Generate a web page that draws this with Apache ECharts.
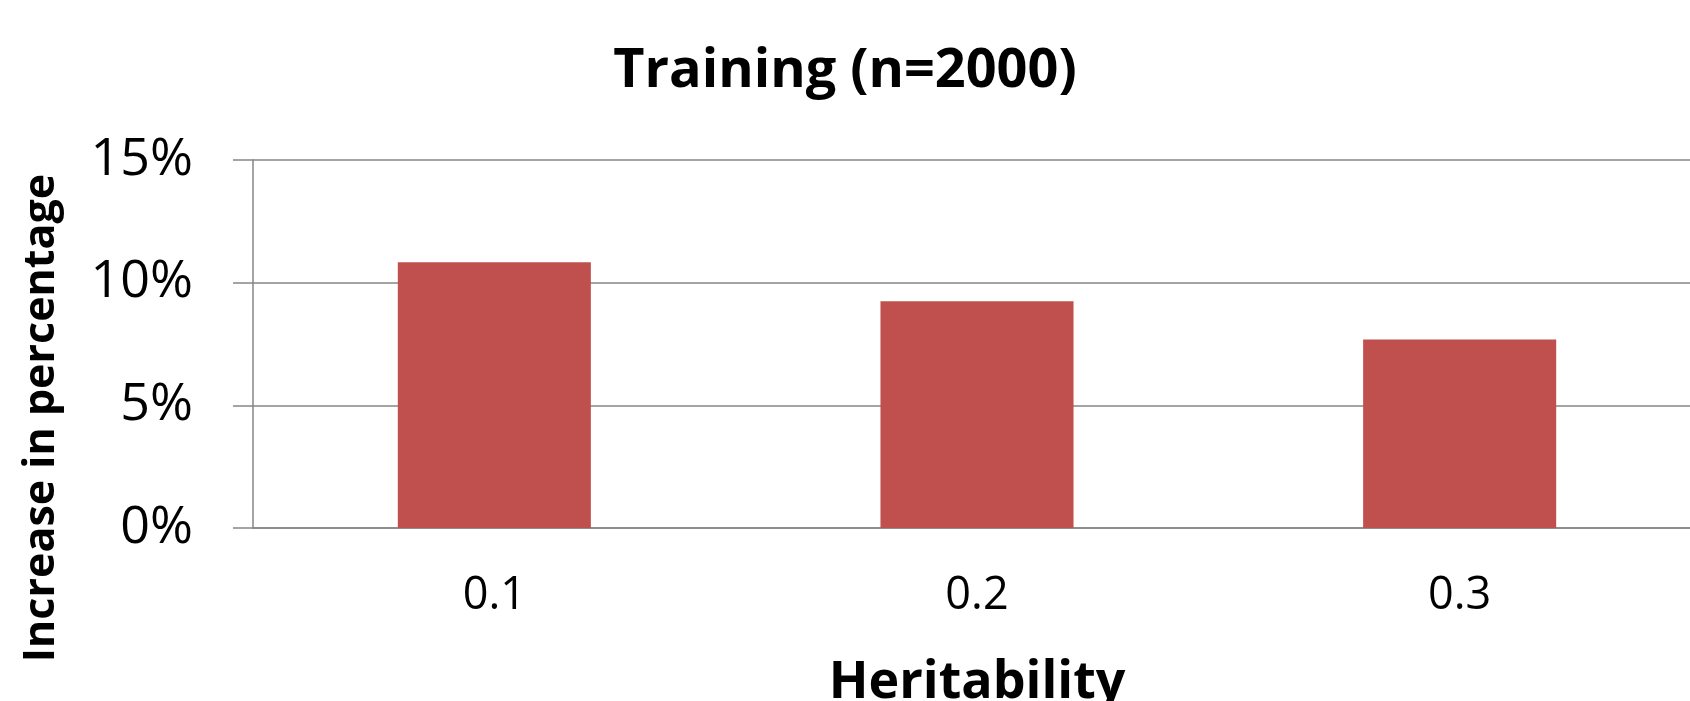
<!DOCTYPE html>
<html>
<head>
<meta charset="utf-8">
<script src="https://cdn.jsdelivr.net/npm/echarts@6/dist/echarts.min.js"></script>
<style>
  html, body { margin: 0; padding: 0; background: #fff; }
  #chart-container { width: 1690px; height: 701px; }
</style>
</head>
<body>
<div id="chart-container"></div>
<script>
const categories = ['0.1', '0.2', '0.3'];
const increaseValues = [0.1083, 0.0924, 0.0768];

const titleText = 'Training (n=2000)';
const xAxisName = 'Heritability';
const yAxisName = 'Increase in percentage';

function createChart(id) {
  const dom = document.getElementById(id);
  const myChart = echarts.init(dom, null, {
    renderer: 'canvas',
    useDirtyRect: false
  });

  const option = {
    backgroundColor: '#ffffff',
    animation: false,
    title: {
      text: titleText,
      left: 'center',
      top: 40,
      textStyle: {
        fontFamily: 'Open Sans',
        fontWeight: 'bold',
        fontSize: 54,
        color: '#000'
      }
    },
    grid: {
      left: 253,
      right: -11,
      top: 160,
      bottom: 173,
      containLabel: false,
      outerBoundsMode: 'none'
    },
    xAxis: {
      type: 'category',
      data: categories,
      name: xAxisName,
      nameLocation: 'middle',
      nameGap: 129,
      nameTextStyle: {
        fontFamily: 'Open Sans',
        fontWeight: 'bold',
        fontSize: 52,
        color: '#000'
      },
      axisLine: { show: true, lineStyle: { color: '#868686', width: 1.5 } },
      axisTick: { show: false },
      axisLabel: {
        fontFamily: 'Open Sans',
        fontSize: 45,
        color: '#000',
        margin: 46
      }
    },
    yAxis: {
      type: 'value',
      min: 0,
      max: 0.15,
      interval: 0.05,
      name: yAxisName,
      nameLocation: 'middle',
      nameRotate: 90,
      nameGap: 190,
      nameTextStyle: {
        fontFamily: 'Open Sans',
        fontWeight: 'bold',
        fontSize: 43,
        color: '#000',
        padding: [0, 148, 0, 0]
      },
      axisLine: { show: true, lineStyle: { color: '#868686', width: 1.5 } },
      axisTick: { show: true, inside: false, length: 20, lineStyle: { color: '#868686', width: 1.5 } },
      splitLine: { show: true, lineStyle: { color: '#868686', width: 1.5 } },
      axisLabel: {
        fontFamily: 'Open Sans',
        fontSize: 52,
        color: '#000',
        margin: 60,
        formatter: function (v) { return Math.round(v * 100) + '%'; }
      }
    },
    series: [
      {
        type: 'bar',
        data: increaseValues,
        barWidth: '40%',
        itemStyle: { color: '#C0504D' }
      }
    ]
  };

  if (option && typeof option === 'object') {
    myChart.setOption(option);
  }
  window.addEventListener('resize', myChart.resize);
}

createChart('chart-container');
</script>
</body>
</html>
